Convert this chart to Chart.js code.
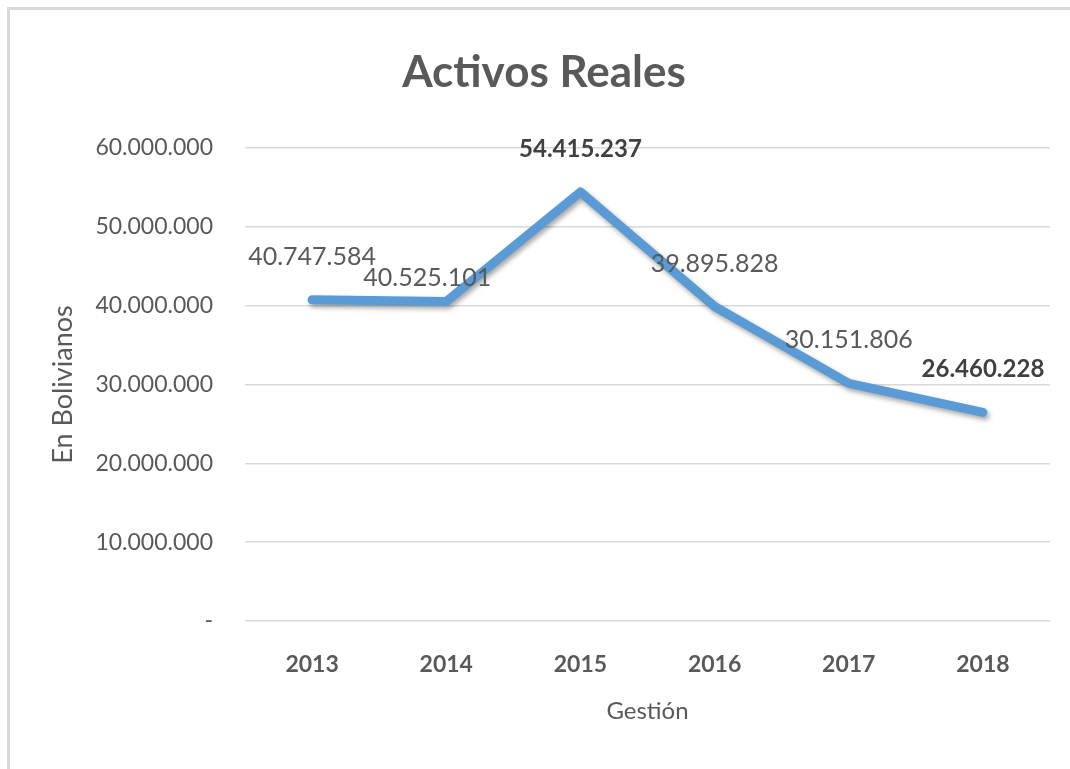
<!DOCTYPE html>
<html>
<head>
<meta charset="utf-8">
<title>Activos Reales</title>
<script src="https://cdn.jsdelivr.net/npm/chart.js@4/dist/chart.umd.min.js"></script>
<style>
  html, body { margin: 0; padding: 0; background: #fff; overflow: hidden; }
  .frame {
    position: absolute; left: 7px; top: 7px; width: 1200px; height: 900px;
    border-top: 3px solid #d9d9d9; border-left: 3px solid #d9d9d9;
  }
  .wrap { position: absolute; left: 0; top: 0; width: 1070px; height: 769px; }
</style>
</head>
<body>
<div class="frame"></div>
<div class="wrap"><canvas id="chart"></canvas></div>
<script>
// Activos reales por gestión, en bolivianos
const years = ['2013', '2014', '2015', '2016', '2017', '2018'];
const activos = [40747584, 40525101, 54415237, 39895828, 30151806, 26460228];
// etiquetas en negrita (máximo y último año)
const boldLabels = [false, false, true, false, false, true];

const FONT = "Lato, 'Open Sans', sans-serif";
const GRAY = '#595959';

const fmt = v => v === 0 ? '-' : v.toLocaleString('de-DE');

// sombra suave bajo la línea
const lineShadow = {
  id: 'lineShadow',
  beforeDatasetDraw(chart) {
    const ctx = chart.ctx;
    ctx.save();
    ctx.shadowColor = 'rgba(0,0,0,0.35)';
    ctx.shadowBlur = 5;
    ctx.shadowOffsetX = 2;
    ctx.shadowOffsetY = 3;
  },
  afterDatasetDraw(chart) {
    chart.ctx.restore();
  },
};

// etiquetas de valor sobre cada punto
const valueLabels = {
  id: 'valueLabels',
  afterDatasetsDraw(chart, args, opts) {
    const ctx = chart.ctx;
    const meta = chart.getDatasetMeta(0);
    const data = chart.data.datasets[0].data;
    ctx.save();
    ctx.textAlign = 'center';
    ctx.textBaseline = 'middle';
    meta.data.forEach((pt, i) => {
      const shift = opts.shift[i] || [0, 0];
      ctx.font = (boldLabels[i] ? 'bold 24px ' : '25px ') + FONT;
      ctx.fillStyle = boldLabels[i] ? '#404040' : GRAY;
      ctx.fillText(fmt(data[i]), pt.x + shift[0], pt.y - opts.gap + shift[1]);
    });
    ctx.restore();
  },
};

// título del gráfico
const chartTitle = {
  id: 'chartTitle',
  afterDraw(chart, args, opts) {
    const ctx = chart.ctx;
    ctx.save();
    ctx.font = 'bold 44px ' + FONT;
    ctx.fillStyle = GRAY;
    ctx.textAlign = 'center';
    ctx.textBaseline = 'middle';
    ctx.fillText(opts.text, 544, 73);
    ctx.restore();
  },
};

new Chart(document.getElementById('chart'), {
  type: 'line',
  data: {
    labels: years,
    datasets: [{
      label: 'Activos Reales',
      data: activos,
      borderColor: '#5b9bd5',
      borderWidth: 9,
      borderCapStyle: 'round',
      borderJoinStyle: 'round',
      pointRadius: 0,
      pointHoverRadius: 0,
      tension: 0,
      fill: false,
    }],
  },
  plugins: [lineShadow, valueLabels, chartTitle],
  options: {
    responsive: true,
    maintainAspectRatio: false,
    animation: false,
    layout: { padding: { top: 148, right: 20, left: 0, bottom: 0 } },
    plugins: {
      legend: { display: false },
      tooltip: { enabled: false },
      valueLabels: { gap: 43, shift: { 1: [-19, 19] } },
      chartTitle: { text: 'Activos Reales' },
    },
    scales: {
      x: {
        offset: true,
        grid: { display: false },
        border: { display: false },
        ticks: { color: GRAY, font: { family: FONT, size: 23, weight: 'bold' }, padding: 22 },
        title: {
          display: true, text: 'Gestión', color: GRAY,
          font: { family: FONT, size: 24 }, padding: { top: 0, bottom: 43 },
        },
        afterFit(scale) { scale.height = 148; },
      },
      y: {
        min: 0, max: 60000000,
        grid: { color: '#d9d9d9', lineWidth: 1.5, drawTicks: false },
        border: { display: false },
        ticks: {
          stepSize: 10000000, color: GRAY, padding: 32,
          font: { family: FONT, size: 23 },
          callback: v => fmt(v),
        },
        title: {
          display: true, text: 'En Bolivianos', color: GRAY,
          font: { family: FONT, size: 27 }, padding: { top: 47, bottom: 0 },
        },
        afterFit(scale) { scale.width = 245; },
      },
    },
  },
});
</script>
</body>
</html>
